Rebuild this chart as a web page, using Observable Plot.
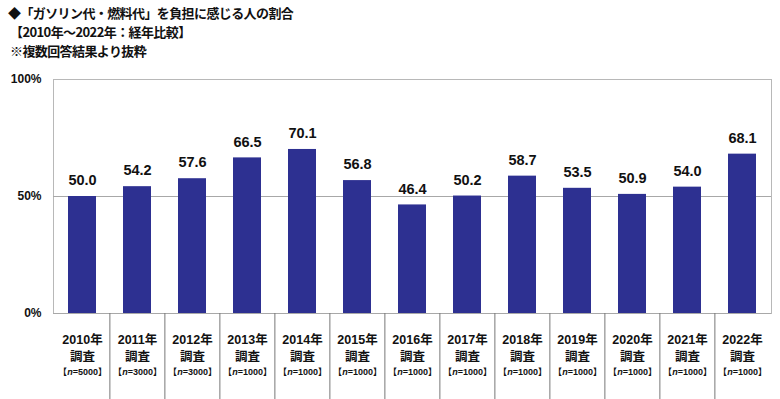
<!DOCTYPE html>
<html>
<head>
<meta charset="utf-8">
<script src="https://cdn.jsdelivr.net/npm/d3@7"></script>
<script src="https://cdn.jsdelivr.net/npm/@observablehq/plot@0.6"></script>
<style>
  html, body { margin: 0; padding: 0; background: #fff; }
  #wrap { width: 780px; height: 399px; overflow: hidden; font-family: "Liberation Sans", "Noto Sans CJK JP", sans-serif; }
  #title { height: 66px; box-sizing: border-box; padding: 3px 0 0 8px; font-family: "Noto Sans CJK JP", sans-serif; font-weight: bold; font-size: 13px; line-height: 19px; color: #111; letter-spacing: -0.6px; }
  #title div:nth-child(n+2) { padding-left: 2px; }
  svg { display: block; font-family: "Liberation Sans", "Noto Sans CJK JP", sans-serif; }
  svg g[aria-label^="y-axis"] text { font-weight: bold; font-size: 12px; fill: #111; }
</style>
</head>
<body>
<div id="wrap">
  <div id="title">
    <div>◆「ガソリン代・燃料代」を負担に感じる人の割合</div>
    <div>【2010年～2022年：経年比較】</div>
    <div>※複数回答結果より抜粋</div>
  </div>
  <div id="chart"></div>
</div>
<script>
const years = ["2010", "2011", "2012", "2013", "2014", "2015", "2016", "2017", "2018", "2019", "2020", "2021", "2022"];
const values = [50.0, 54.2, 57.6, 66.5, 70.1, 56.8, 46.4, 50.2, 58.7, 53.5, 50.9, 54.0, 68.1];
const sampleSizes = [5000, 3000, 3000, 1000, 1000, 1000, 1000, 1000, 1000, 1000, 1000, 1000, 1000];
const yTicks = [0, 50, 100];

const data = years.map((y, i) => ({year: y, value: values[i], n: sampleSizes[i]}));

const W = 780, H = 333, mL = 53, mR = 9, mT = 13, mB = 86;
const step = (W - mL - mR) / years.length;
const frameH = H - mT - mB;

const chart = Plot.plot({
  width: W,
  height: H,
  marginLeft: mL,
  marginRight: mR,
  marginTop: mT,
  marginBottom: mB,
  style: {background: "#fff", color: "#111"},
  x: {domain: years, paddingInner: 0.5, paddingOuter: 0.25, axis: null},
  y: {domain: [0, 100], ticks: yTicks, tickFormat: d => d + "%", tickSize: 0, tickPadding: 12, label: null},
  marks: [
    Plot.frame({stroke: "#b8b8b8"}),
    Plot.ruleY([50], {stroke: "#a8a8a8"}),
    Plot.barY(data, {x: "year", y: "value", fill: "#2d3091"}),
    Plot.ruleY([0], {stroke: "#a8a8a8"}),
    Plot.ruleX(years.slice(1), {x: d => d, dx: -step / 2, insetTop: frameH, insetBottom: -mB, stroke: "#777"}),
    Plot.text(data, {x: "year", y: "value", text: d => d.value.toFixed(1), dy: -16, fontSize: 14.5, fontWeight: "bold", fill: "#111"}),
    Plot.text(data, {x: "year", text: d => d.year + "年", frameAnchor: "bottom", dy: 30, fontSize: 12.5, fontWeight: "bold", fill: "#111"}),
    Plot.text(data, {x: "year", text: d => "調査", frameAnchor: "bottom", dy: 47, fontSize: 12.5, fontWeight: "bold", fill: "#111"}),
    Plot.text(data, {x: "year", text: d => "【n=" + d.n + "】", frameAnchor: "bottom", dy: 61, fontSize: 9, fontWeight: "bold", fill: "#111"})
  ]
});
document.getElementById("chart").appendChild(chart);

// italic "n" in sample size labels
d3.select(chart).selectAll("text").each(function() {
  const t = this.textContent;
  if (t.startsWith("【n=")) {
    const el = d3.select(this);
    el.text(null);
    el.append("tspan").text("【");
    el.append("tspan").attr("font-style", "italic").text("n");
    el.append("tspan").text(t.slice(2));
  }
});
</script>
</body>
</html>
